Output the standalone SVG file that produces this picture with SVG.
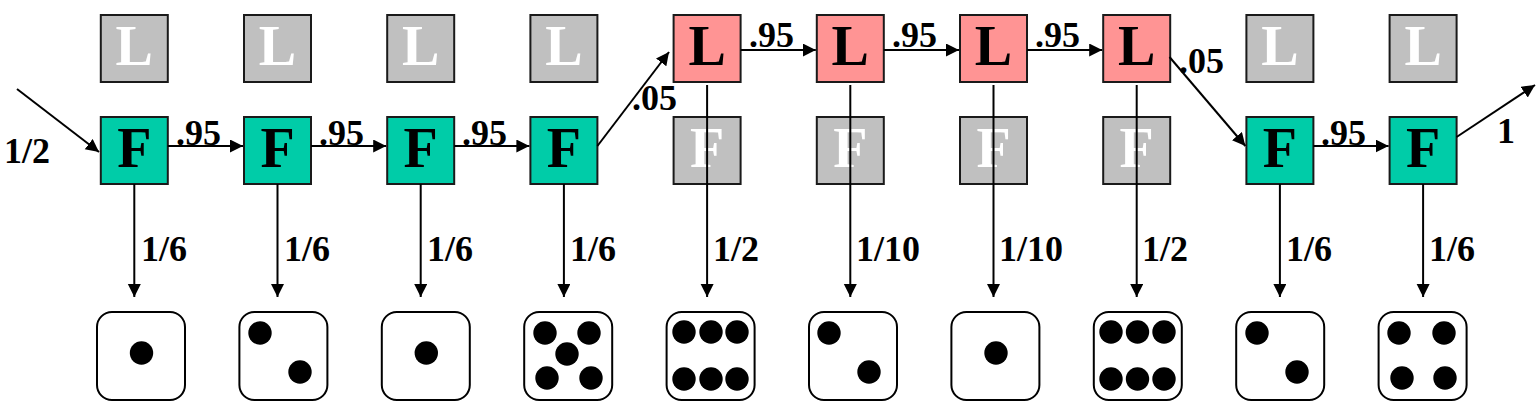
<svg xmlns="http://www.w3.org/2000/svg" width="1540" height="412" viewBox="0 0 1540 412">
<style>
.box{stroke:#1a1a1a;stroke-width:2}
.f{fill:#00CCA8}
.l{fill:#FF9494}
.g{fill:#C0C0C0}
.let{font-family:"Liberation Serif",serif;font-weight:bold;font-size:56px;text-anchor:middle}
.w{fill:#ffffff}
.k{fill:#000000}
.lab{font-family:"Liberation Serif",serif;font-weight:bold;font-size:36px;fill:#000}
.ln{stroke:#000;stroke-width:2;fill:none}
.die{fill:#fff;stroke:#000;stroke-width:2}
.dot{fill:#000}
</style>
<defs>
<marker id="ah" markerUnits="userSpaceOnUse" markerWidth="14" markerHeight="14" refX="13" refY="6.5" orient="auto">
<path d="M0,0 L13,6.5 L0,13 z" fill="#000"/>
</marker>
</defs>
<rect width="1540" height="412" fill="#fff"/>

<g id="L1"><rect class="box g" x="100.8" y="15" width="67" height="67"/><text class="let w" x="134.3" y="65">L</text></g>
<g id="L2"><rect class="box g" x="244" y="15" width="67" height="67"/><text class="let w" x="277.5" y="65">L</text></g>
<g id="L3"><rect class="box g" x="387.2" y="15" width="67" height="67"/><text class="let w" x="420.7" y="65">L</text></g>
<g id="L4"><rect class="box g" x="530.4" y="15" width="67" height="67"/><text class="let w" x="563.9" y="65">L</text></g>
<g id="L5"><rect class="box l" x="673.6" y="15" width="67" height="67"/><text class="let k" x="707.1" y="65">L</text></g>
<g id="L6"><rect class="box l" x="816.8" y="15" width="67" height="67"/><text class="let k" x="850.3" y="65">L</text></g>
<g id="L7"><rect class="box l" x="960" y="15" width="67" height="67"/><text class="let k" x="993.5" y="65">L</text></g>
<g id="L8"><rect class="box l" x="1103.2" y="15" width="67" height="67"/><text class="let k" x="1136.7" y="65">L</text></g>
<g id="L9"><rect class="box g" x="1246.4" y="15" width="67" height="67"/><text class="let w" x="1279.9" y="65">L</text></g>
<g id="L10"><rect class="box g" x="1389.6" y="15" width="67" height="67"/><text class="let w" x="1423.1" y="65">L</text></g>

<g id="F1"><rect class="box f" x="100.8" y="117" width="67" height="67"/><text class="let k" x="134.3" y="167">F</text></g>
<g id="F2"><rect class="box f" x="244" y="117" width="67" height="67"/><text class="let k" x="277.5" y="167">F</text></g>
<g id="F3"><rect class="box f" x="387.2" y="117" width="67" height="67"/><text class="let k" x="420.7" y="167">F</text></g>
<g id="F4"><rect class="box f" x="530.4" y="117" width="67" height="67"/><text class="let k" x="563.9" y="167">F</text></g>
<g id="F5"><rect class="box g" x="673.6" y="117" width="67" height="67"/><text class="let w" x="707.1" y="167">F</text></g>
<g id="F6"><rect class="box g" x="816.8" y="117" width="67" height="67"/><text class="let w" x="850.3" y="167">F</text></g>
<g id="F7"><rect class="box g" x="960" y="117" width="67" height="67"/><text class="let w" x="993.5" y="167">F</text></g>
<g id="F8"><rect class="box g" x="1103.2" y="117" width="67" height="67"/><text class="let w" x="1136.7" y="167">F</text></g>
<g id="F9"><rect class="box f" x="1246.4" y="117" width="67" height="67"/><text class="let k" x="1279.9" y="167">F</text></g>
<g id="F10"><rect class="box f" x="1389.6" y="117" width="67" height="67"/><text class="let k" x="1423.1" y="167">F</text></g>

<g id="die1"><rect class="die" x="97" y="312" width="88" height="88" rx="15"/><circle class="dot" cx="141.5" cy="353" r="11.7"/></g>
<g id="die2"><rect class="die" x="239.4" y="312" width="88" height="88" rx="15"/><circle class="dot" cx="260" cy="333" r="11.7"/><circle class="dot" cx="300" cy="372" r="11.7"/></g>
<g id="die3"><rect class="die" x="381.8" y="312" width="88" height="88" rx="15"/><circle class="dot" cx="426.3" cy="353" r="11.7"/></g>
<g id="die4"><rect class="die" x="524.2" y="312" width="88" height="88" rx="15"/><circle class="dot" cx="545" cy="333" r="11.7"/><circle class="dot" cx="589" cy="333" r="11.7"/><circle class="dot" cx="567" cy="354" r="11.7"/><circle class="dot" cx="547" cy="378" r="11.7"/><circle class="dot" cx="591" cy="378" r="11.7"/></g>
<g id="die5"><rect class="die" x="666.6" y="312" width="88" height="88" rx="15"/><circle class="dot" cx="684" cy="332" r="11.7"/><circle class="dot" cx="711" cy="332" r="11.7"/><circle class="dot" cx="737" cy="332" r="11.7"/><circle class="dot" cx="684" cy="379" r="11.7"/><circle class="dot" cx="711" cy="379" r="11.7"/><circle class="dot" cx="737" cy="379" r="11.7"/></g>
<g id="die6"><rect class="die" x="809" y="312" width="88" height="88" rx="15"/><circle class="dot" cx="829" cy="333" r="11.7"/><circle class="dot" cx="869" cy="372" r="11.7"/></g>
<g id="die7"><rect class="die" x="951.4" y="312" width="88" height="88" rx="15"/><circle class="dot" cx="996" cy="353" r="11.7"/></g>
<g id="die8"><rect class="die" x="1093.8" y="312" width="88" height="88" rx="15"/><circle class="dot" cx="1111" cy="332" r="11.7"/><circle class="dot" cx="1137.5" cy="332" r="11.7"/><circle class="dot" cx="1164" cy="332" r="11.7"/><circle class="dot" cx="1111" cy="379" r="11.7"/><circle class="dot" cx="1137.5" cy="379" r="11.7"/><circle class="dot" cx="1164" cy="379" r="11.7"/></g>
<g id="die9"><rect class="die" x="1236.2" y="312" width="88" height="88" rx="15"/><circle class="dot" cx="1257" cy="333" r="11.7"/><circle class="dot" cx="1297" cy="372" r="11.7"/></g>
<g id="die10"><rect class="die" x="1378.6" y="312" width="88" height="88" rx="15"/><circle class="dot" cx="1399" cy="333" r="11.7"/><circle class="dot" cx="1444" cy="333" r="11.7"/><circle class="dot" cx="1402" cy="378" r="11.7"/><circle class="dot" cx="1445" cy="378" r="11.7"/></g>

<g id="connectors">
<line class="ln" x1="17" y1="89" x2="99" y2="152" marker-end="url(#ah)"/>
<line class="ln" x1="167.8" y1="146" x2="243" y2="146" marker-end="url(#ah)"/>
<line class="ln" x1="311" y1="146" x2="386.2" y2="146" marker-end="url(#ah)"/>
<line class="ln" x1="454.2" y1="146" x2="529.4" y2="146" marker-end="url(#ah)"/>
<line class="ln" x1="597.4" y1="146" x2="669" y2="52" marker-end="url(#ah)"/>
<line class="ln" x1="740.6" y1="50" x2="815.8" y2="50" marker-end="url(#ah)"/>
<line class="ln" x1="883.8" y1="50" x2="959" y2="50" marker-end="url(#ah)"/>
<line class="ln" x1="1027" y1="50" x2="1102.2" y2="50" marker-end="url(#ah)"/>
<line class="ln" x1="1169.5" y1="57" x2="1245.4" y2="146" marker-end="url(#ah)"/>
<line class="ln" x1="1313.4" y1="146" x2="1388.6" y2="146" marker-end="url(#ah)"/>
<line class="ln" x1="1456.6" y1="137" x2="1535" y2="85" marker-end="url(#ah)"/>

<line class="ln" x1="134.3" y1="184" x2="134.3" y2="297" marker-end="url(#ah)"/>
<line class="ln" x1="277.5" y1="184" x2="277.5" y2="297" marker-end="url(#ah)"/>
<line class="ln" x1="420.7" y1="184" x2="420.7" y2="297" marker-end="url(#ah)"/>
<line class="ln" x1="563.9" y1="184" x2="563.9" y2="297" marker-end="url(#ah)"/>
<line class="ln" x1="707.1" y1="85" x2="707.1" y2="297" marker-end="url(#ah)"/>
<line class="ln" x1="850.3" y1="85" x2="850.3" y2="297" marker-end="url(#ah)"/>
<line class="ln" x1="993.5" y1="85" x2="993.5" y2="297" marker-end="url(#ah)"/>
<line class="ln" x1="1136.7" y1="85" x2="1136.7" y2="297" marker-end="url(#ah)"/>
<line class="ln" x1="1279.9" y1="184" x2="1279.9" y2="297" marker-end="url(#ah)"/>
<line class="ln" x1="1423.1" y1="184" x2="1423.1" y2="297" marker-end="url(#ah)"/>

<text class="lab" x="4" y="163">1/2</text>
<text class="lab" x="176" y="145">.95</text>
<text class="lab" x="319" y="145">.95</text>
<text class="lab" x="462" y="145">.95</text>
<text class="lab" x="632" y="110">.05</text>
<text class="lab" x="749" y="47">.95</text>
<text class="lab" x="892" y="47">.95</text>
<text class="lab" x="1035" y="47">.95</text>
<text class="lab" x="1179" y="73">.05</text>
<text class="lab" x="1321" y="145">.95</text>
<text class="lab" x="1497" y="143">1</text>

<text class="lab" x="141" y="261">1/6</text>
<text class="lab" x="284" y="261">1/6</text>
<text class="lab" x="427" y="261">1/6</text>
<text class="lab" x="570" y="261">1/6</text>
<text class="lab" x="713" y="261">1/2</text>
<text class="lab" x="856" y="261">1/10</text>
<text class="lab" x="999" y="261">1/10</text>
<text class="lab" x="1142" y="261">1/2</text>
<text class="lab" x="1286" y="261">1/6</text>
<text class="lab" x="1429" y="261">1/6</text>
</g>
</svg>
